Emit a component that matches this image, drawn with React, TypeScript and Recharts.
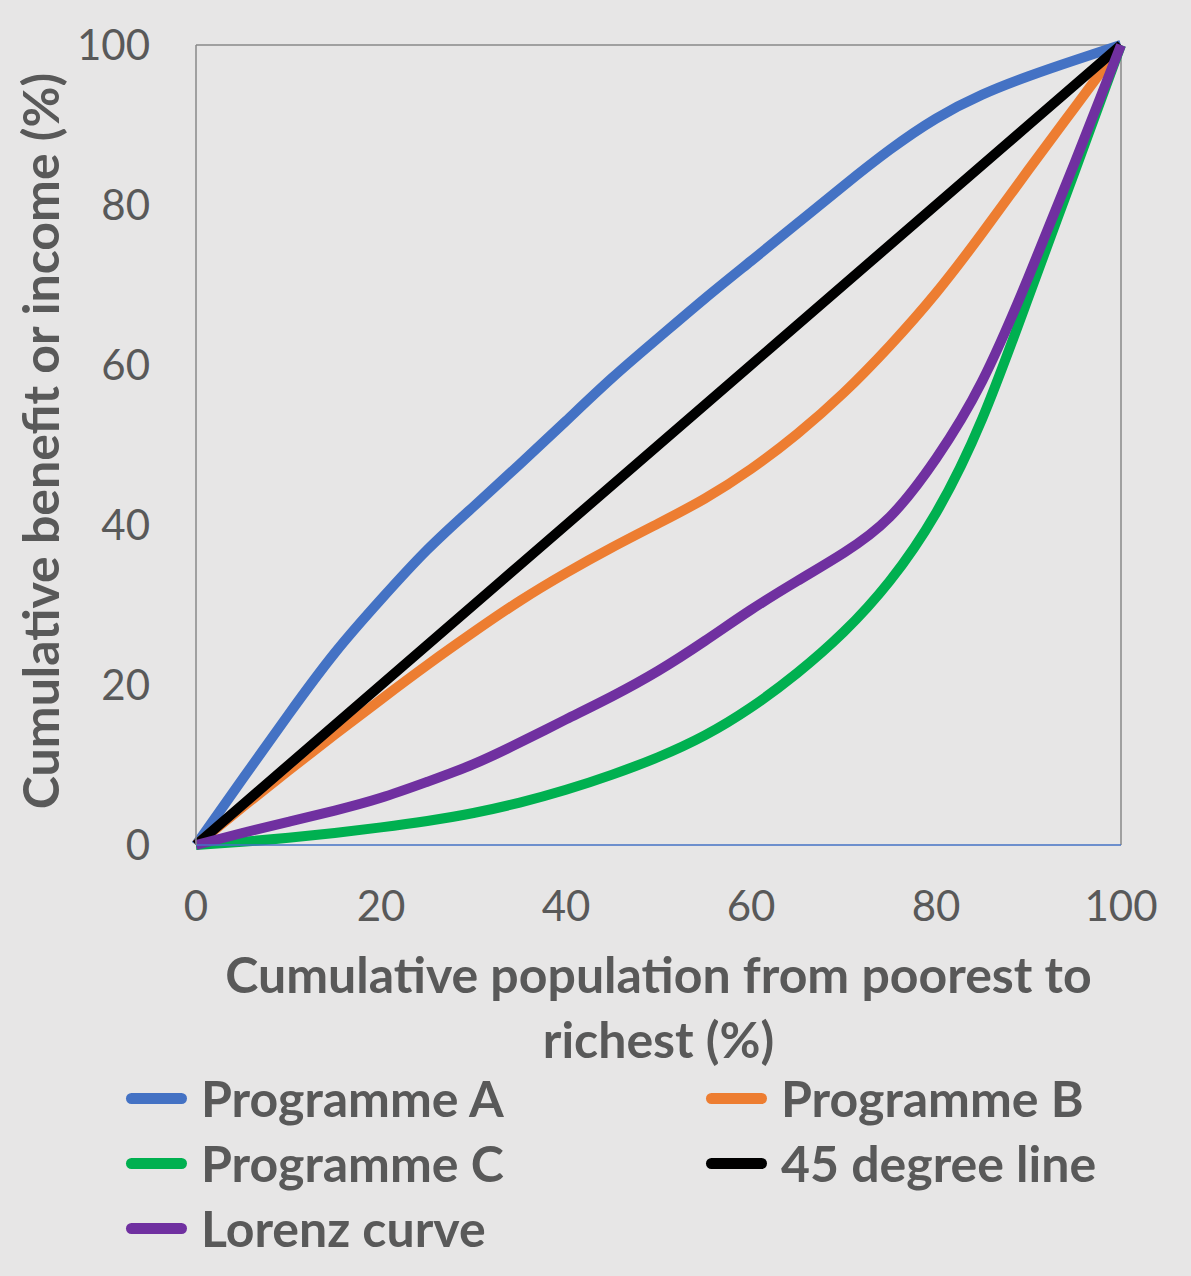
import { Label, Legend, Line, LineChart, ReferenceLine, XAxis, YAxis } from "recharts";

const population = [0, 5, 10, 15, 20, 25, 30, 35, 40, 45, 50, 55, 60, 65, 70, 75, 80, 85, 90, 95, 100];
const programmeA = [0, 8.2, 16.3, 24, 30.7, 36.9, 42.3, 47.6, 53, 58.4, 63.4, 68.3, 73, 77.7, 82.4, 86.9, 90.8, 93.8, 96.1, 98.1, 100];
const programmeB = [0, 4.7, 9.3, 13.8, 18.2, 22.5, 26.6, 30.5, 34, 37.2, 40.2, 43.3, 47, 51.4, 56.5, 62.4, 69, 76.5, 84.4, 92.2, 100];
const programmeC = [0, 0.4, 0.9, 1.5, 2.2, 3, 4, 5.3, 6.9, 8.8, 11, 13.7, 17.2, 21.5, 26.6, 33, 41.5, 53.3, 68.5, 84.2, 100];
const degreeLine = [0, 5, 10, 15, 20, 25, 30, 35, 40, 45, 50, 55, 60, 65, 70, 75, 80, 85, 90, 95, 100];
const lorenzCurve = [0, 1.5, 2.9, 4.3, 5.9, 7.9, 10.1, 12.8, 15.7, 18.6, 21.8, 25.5, 29.4, 33, 36.5, 41, 48.3, 58, 71, 85.3, 100];

const xTicks = [0, 20, 40, 60, 80, 100];
const yTicks = [0, 20, 40, 60, 80, 100];

const series = [
  { key: "programmeA", name: "Programme A", color: "#4472C4" },
  { key: "programmeB", name: "Programme B", color: "#ED7D31" },
  { key: "programmeC", name: "Programme C", color: "#00B050" },
  { key: "degreeLine", name: "45 degree line", color: "#000000" },
  { key: "lorenzCurve", name: "Lorenz curve", color: "#7030A0" },
];

const chartData = population.map((x, i) => ({
  x,
  programmeA: programmeA[i],
  programmeB: programmeB[i],
  programmeC: programmeC[i],
  degreeLine: degreeLine[i],
  lorenzCurve: lorenzCurve[i],
}));

const FONT = "Lato, sans-serif";
const TEXT = "#595959";

function YTitle(props: any) {
  const { x, y, height } = props.viewBox;
  const cx = x + 40;
  const cy = y + height / 2 - 4;
  return (
    <text
      x={cx}
      y={cy}
      transform={`rotate(-90, ${cx}, ${cy})`}
      textAnchor="middle"
      dominantBaseline="central"
      fill={TEXT}
      fontSize={50}
      fontWeight={700}
      fontFamily={FONT}
    >
      Cumulative benefit or income (%)
    </text>
  );
}

function XTitle(props: any) {
  const { x, y, width } = props.viewBox;
  const cx = x + width / 2;
  return (
    <text textAnchor="middle" fill={TEXT} fontSize={50} fontWeight={700} fontFamily={FONT}>
      <tspan x={cx} y={y + 148}>
        Cumulative population from poorest to
      </tspan>
      <tspan x={cx} y={y + 213}>
        richest (%)
      </tspan>
    </text>
  );
}

function LegendBox(props: any) {
  const payload = props.payload ?? [];
  const order = series.map((s) => s.name);
  const items = [...payload].sort((a: any, b: any) => order.indexOf(a.value) - order.indexOf(b.value));
  return (
    <div style={{ position: "relative", width: 1191, height: 190, fontFamily: FONT }}>
      {items.map((item: any, i: number) => {
        const col = i % 2;
        const row = Math.floor(i / 2);
        return (
          <div
            key={item.value}
            style={{
              position: "absolute",
              left: col === 0 ? 126 : 706,
              top: row * 65,
              height: 65,
              display: "flex",
              alignItems: "center",
            }}
          >
            <span
              style={{
                display: "inline-block",
                width: 61,
                height: 11,
                borderRadius: 6,
                background: item.color,
                marginRight: 14,
              }}
            />
            <span style={{ color: TEXT, fontSize: 50, fontWeight: 700, lineHeight: "65px" }}>{item.value}</span>
          </div>
        );
      })}
    </div>
  );
}

export default function App() {
  return (
    <div style={{ position: "absolute", left: 0, top: 0, width: 1191, height: 1276, background: "#E7E6E6" }}>
      <LineChart
        width={1191}
        height={1276}
        data={chartData}
        margin={{ top: 45, right: 70, bottom: 20, left: 0 }}
        style={{ fontFamily: FONT }}
      >
        <XAxis
          type="number"
          dataKey="x"
          domain={[0, 100]}
          ticks={xTicks}
          interval={0}
          height={221}
          tickLine={false}
          tickSize={0}
          tickMargin={46}
          axisLine={{ stroke: "#4472C4", strokeWidth: 1.5 }}
          tick={{ fill: TEXT, fontSize: 42, fontFamily: FONT }}
        >
          <Label content={XTitle} />
        </XAxis>
        <YAxis
          type="number"
          domain={[0, 100]}
          ticks={yTicks}
          interval={0}
          width={196}
          tickLine={false}
          tickSize={0}
          tickMargin={46}
          axisLine={{ stroke: "#898989", strokeWidth: 1.5 }}
          tick={{ fill: TEXT, fontSize: 42, fontFamily: FONT }}
        >
          <Label content={YTitle} />
        </YAxis>
        <ReferenceLine y={100} stroke="#898989" strokeWidth={1.5} />
        <ReferenceLine x={100} stroke="#898989" strokeWidth={1.5} />
        <Legend verticalAlign="bottom" wrapperStyle={{ left: 0, width: 1191 }} content={LegendBox} />
        {series.map((s) => (
          <Line
            key={s.key}
            type="natural"
            dataKey={s.key}
            name={s.name}
            stroke={s.color}
            strokeWidth={10}
            strokeLinejoin="round"
            dot={false}
            activeDot={false}
            isAnimationActive={false}
          />
        ))}
      </LineChart>
    </div>
  );
}
